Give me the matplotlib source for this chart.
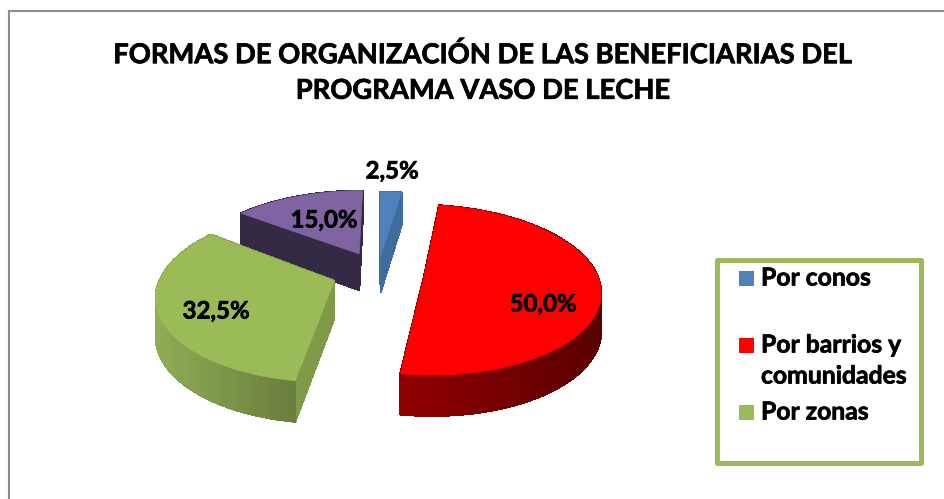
import matplotlib
matplotlib.use('Agg')
import numpy as np
import matplotlib.pyplot as plt
import matplotlib.patheffects as pe
from matplotlib.patches import Polygon, Rectangle

plt.rcParams['font.family'] = ['Lato', 'DejaVu Sans']

titulo = 'FORMAS DE ORGANIZACIÓN DE LAS BENEFICIARIAS DEL\nPROGRAMA VASO DE LECHE'

categorias = ['Por conos', 'Por barrios y\ncomunidades', 'Por zonas', 'Otros']
valores = [2.5, 50.0, 32.5, 15.0]
etiquetas = ['2,5%', '50,0%', '32,5%', '15,0%']
explode = [0.2, 0.27, 0.27, 0.25]

color_top = ['#4f81bd', '#ff0000', '#9bbb59', '#8064a2']
color_corte = ['#3e6c9f', '#7a0000', '#7f9a48', '#352a45']
color_lado_a = ['#3e6c9f', '#5a0000', '#6a7d3d', '#352a45']
color_lado_b = ['#3e6c9f', '#920000', '#8fac55', '#352a45']

# proyeccion del pastel, en pixeles de la imagen
cx, cy = 378, 272
a, b, p = 172, 84, 0.17
alto = 37

negrita = [pe.withStroke(linewidth=0.5, foreground='black')]


def proyectar(u, v, h=0):
    f = 1 + p * v
    return cx + a * u * f, cy + b * v * f + h * (1 + 0.1 * v)


def mezclar(c1, c2, t):
    c1 = np.array(matplotlib.colors.to_rgb(c1))
    c2 = np.array(matplotlib.colors.to_rgb(c2))
    return tuple(c1 + (c2 - c1) * t)


fig = plt.figure(figsize=(9.44, 4.99), dpi=100)
ax = fig.add_axes([0, 0, 1, 1])
ax.set_xlim(0, 944)
ax.set_ylim(499, 0)
ax.axis('off')

# marco del grafico
ax.plot([9, 9], [499, 11], color='#8c8c8c', lw=1.5)
ax.plot([9, 944], [11, 11], color='#8c8c8c', lw=1.5)

ax.text(483, 72.5, titulo, ha='center', va='center', fontsize=19.7, fontweight='bold',
        color='#000000', linespacing=1.58, path_effects=negrita)

# angulos a partir de los valores (horario desde arriba)
fin = np.cumsum(valores) / np.sum(valores) * 2 * np.pi
inicio = np.concatenate([[0], fin[:-1]])

orden = [3, 0, 1, 2]
for i in orden:
    ang = np.linspace(inicio[i], fin[i], 80)
    medio = (inicio[i] + fin[i]) / 2
    du, dv = explode[i] * np.sin(medio), -explode[i] * np.cos(medio)
    u = du + np.sin(ang)
    v = dv - np.cos(ang)

    caras = []
    # caras de corte
    for ue, ve in [(u[0], v[0]), (u[-1], v[-1])]:
        quad = [proyectar(du, dv), proyectar(ue, ve), proyectar(ue, ve, alto), proyectar(du, dv, alto)]
        caras.append((np.mean([q[1] for q in quad]), quad, color_corte[i]))
    # lado exterior con degradado
    for k in range(len(ang) - 1):
        quad = [proyectar(u[k], v[k]), proyectar(u[k + 1], v[k + 1]),
                proyectar(u[k + 1], v[k + 1], alto), proyectar(u[k], v[k], alto)]
        if i == 2:
            t = np.clip(1 - (quad[0][0] - 160) / 140, 0, 1)
        else:
            t = np.clip(1 - (quad[0][0] - 397) / 205, 0, 1)
        caras.append((np.mean([q[1] for q in quad]), quad, mezclar(color_lado_a[i], color_lado_b[i], t)))

    for _, quad, color in sorted(caras, key=lambda c: c[0]):
        ax.add_patch(Polygon(quad, closed=True, facecolor=color, edgecolor=color, lw=0.8, antialiased=False))

    borde = [proyectar(du, dv)] + [proyectar(uu, vv) for uu, vv in zip(u, v)]
    ax.add_patch(Polygon(borde, closed=True, facecolor=color_top[i], edgecolor=color_top[i], lw=0.5))

# etiquetas de datos
pos_etiquetas = [(392, 171), (543, 304), (216, 311), (324, 220)]
for texto, (x, y) in zip(etiquetas, pos_etiquetas):
    ax.text(x, y, texto, ha='center', va='center', fontsize=17.3, fontweight='bold',
            color='#000000', path_effects=negrita)

# leyenda
ax.add_patch(Rectangle((717, 260), 204, 203, facecolor='white', edgecolor='#9bbb59', lw=3.6, joinstyle='round'))
pos_leyenda = [278, 345, 412]
for i, y in enumerate(pos_leyenda):
    ax.add_patch(Rectangle((739, y - 7.5), 15, 15, facecolor=color_top[i], edgecolor='none'))
    lineas = categorias[i].split('\n')
    for j, linea in enumerate(lineas):
        ax.text(761, y + j * 31, linea, ha='left', va='center', fontsize=17.8, fontweight='bold',
                color='#000000', path_effects=negrita)

fig.savefig('out.png', dpi=100, facecolor='white')
plt.close('all')
